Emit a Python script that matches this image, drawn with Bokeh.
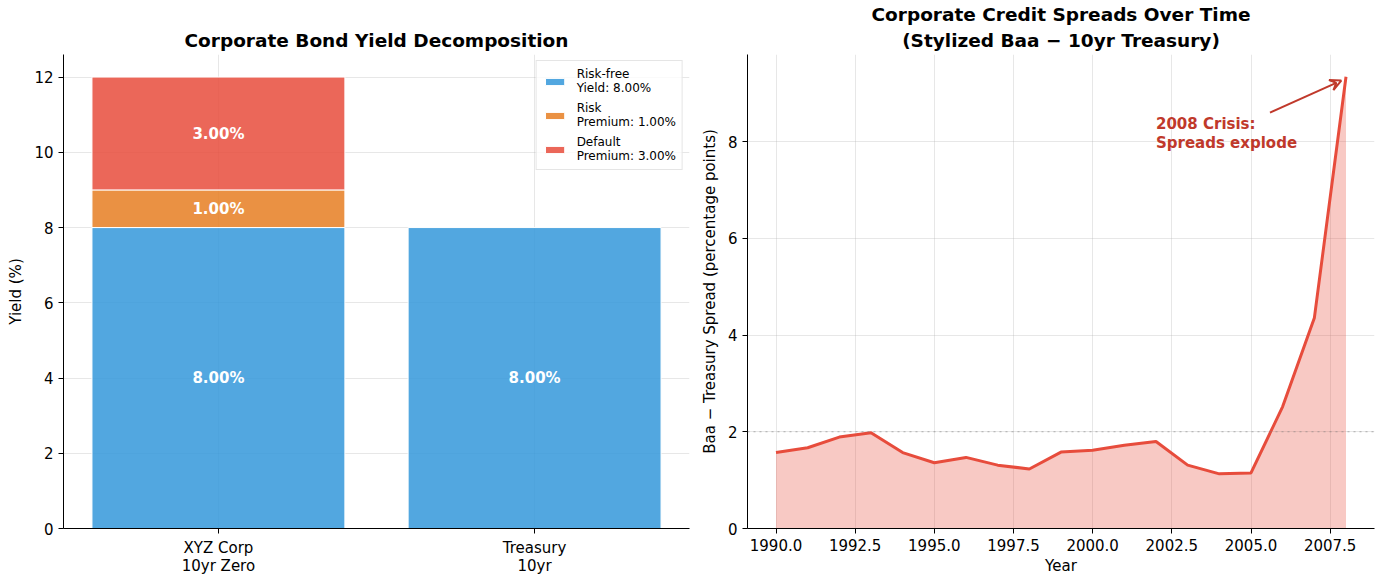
from bokeh.plotting import figure
from bokeh.layouts import row
from bokeh.models import (ColumnDataSource, Range1d, FixedTicker, Span, Arrow, VeeHead,
                          Title, Legend, LegendItem, PrintfTickFormatter)
from bokeh.core.properties import value
from bokeh.embed import file_html
from bokeh.resources import INLINE

# ---------------- data ----------------
categories = ["XYZ Corp\n10yr Zero", "Treasury\n10yr"]
risk_free = [8.0, 8.0]
risk_premium = [1.0, 0.0]
default_premium = [3.0, 0.0]

years = [1990, 1991, 1992, 1993, 1994, 1995, 1996, 1997, 1998, 1999,
         2000, 2001, 2002, 2003, 2004, 2005, 2006, 2007, 2008]
spreads = [1.57, 1.67, 1.89, 1.98, 1.57, 1.36, 1.47, 1.31, 1.23, 1.58,
           1.62, 1.72, 1.80, 1.31, 1.13, 1.15, 2.52, 4.35, 9.34]

FONT = "DejaVu Sans"
BLUE, ORANGE, RED = "#3498db", "#e67e22", "#e74c3c"
DARKRED = "#c0392b"


def style(p):
    p.outline_line_color = None
    p.title.text_font = FONT
    p.title.text_color = "black"
    p.title.align = "center"
    p.title.text_font_size = "18.5px"
    p.title.text_font_style = "bold"
    p.title.standoff = 7
    for ax in (p.xaxis[0], p.yaxis[0]):
        ax.axis_line_color = "black"
        ax.major_tick_line_color = "black"
        ax.major_tick_out = 5
        ax.major_tick_in = 0
        ax.minor_tick_line_color = None
        ax.major_label_text_font = FONT
        ax.major_label_text_font_size = "15px"
        ax.major_label_text_color = "black"
        ax.major_label_text_line_height = 1.0
        ax.axis_label_text_font = FONT
        ax.axis_label_text_font_size = "15px"
        ax.axis_label_text_font_style = "normal"
        ax.axis_label_text_color = "black"
        ax.major_label_standoff = 5
        ax.axis_label_standoff = 6
    for g in (p.xgrid[0], p.ygrid[0]):
        g.grid_line_color = "#b0b0b0"
        g.grid_line_alpha = 0.3


# ---------------- left: stacked bars ----------------
xs = list(range(len(categories)))
p1 = figure(frame_width=626, frame_height=474, output_backend="svg", toolbar_location=None,
            x_range=Range1d(-0.49, 1.49), y_range=Range1d(0, 12.6),
            min_border_left=63, min_border_right=8, min_border_top=54, min_border_bottom=48)
p1.title.text = "Corporate Bond Yield Decomposition"
style(p1)
p1.xaxis.ticker = FixedTicker(ticks=xs)
p1.xaxis.major_label_overrides = {i: c for i, c in enumerate(categories)}
p1.yaxis.ticker = FixedTicker(ticks=[0, 2, 4, 6, 8, 10, 12])
p1.yaxis.axis_label = "Yield (%)"

segments = [
    (risk_free, BLUE, "Risk-free\nYield: %.2f%%" % risk_free[0]),
    (risk_premium, ORANGE, "Risk\nPremium: %.2f%%" % risk_premium[0]),
    (default_premium, RED, "Default\nPremium: %.2f%%" % default_premium[0]),
]
bottoms = [0.0] * len(xs)
items = []
lx, ly, lt = [], [], []
for vals, col, lab in segments:
    bx = [x for x, v in zip(xs, vals) if v > 0]
    bb = [b for b, v in zip(bottoms, vals) if v > 0]
    bt = [b + v for b, v in zip(bottoms, vals) if v > 0]
    src = ColumnDataSource(dict(x=bx, bottom=bb, top=bt))
    r = p1.vbar(x="x", bottom="bottom", top="top", width=0.8, source=src,
                fill_color=col, fill_alpha=0.85, line_color="white", line_width=1)
    items.append(LegendItem(label=lab, renderers=[r]))
    for x, b, v in zip(xs, bottoms, vals):
        if v > 0:
            lx.append(x)
            ly.append(b + v / 2)
            lt.append("%.2f%%" % v)
    bottoms = [b + v for b, v in zip(bottoms, vals)]

p1.text(x=lx, y=ly, text=lt, text_align="center", text_baseline="middle",
        text_color="white", text_font=value(FONT), text_font_style="bold",
        text_font_size="15px")

legend = Legend(items=items, location="top_right")
legend.label_text_font = FONT
legend.label_text_font_size = "12px"
legend.label_text_color = "black"
legend.label_text_line_height = 1.1
legend.glyph_width = 24
legend.glyph_height = 9
legend.label_standoff = 10
legend.spacing = 6
legend.padding = 6
legend.margin = 6
legend.border_line_color = "#cccccc"
legend.border_line_width = 1
legend.background_fill_alpha = 0.8
p1.add_layout(legend)

# ---------------- right: spreads ----------------
p2 = figure(frame_width=627, frame_height=474, output_backend="svg", toolbar_location=None,
            x_range=Range1d(1989.1, 2008.9), y_range=Range1d(0, 9.8),
            min_border_left=47, min_border_right=2, min_border_top=54, min_border_bottom=48)
p2.title.text = ""
style(p2)
p2.add_layout(Title(text="(Stylized Baa \u2212 10yr Treasury)", align="center",
                    text_font=FONT, text_font_size="18.5px", text_font_style="bold",
                    text_color="black", text_line_height=1.0, standoff=7), "above")
p2.add_layout(Title(text="Corporate Credit Spreads Over Time", align="center",
                    text_font=FONT, text_font_size="18.5px", text_font_style="bold",
                    text_color="black", text_line_height=1.0, standoff=0), "above")
p2.xaxis.ticker = FixedTicker(ticks=[1990, 1992.5, 1995, 1997.5, 2000, 2002.5, 2005, 2007.5])
p2.xaxis.formatter = PrintfTickFormatter(format="%.1f")
p2.yaxis.ticker = FixedTicker(ticks=[0, 2, 4, 6, 8])
p2.xaxis.axis_label = "Year"
p2.yaxis.axis_label = "Baa \u2212 Treasury Spread (percentage points)"
p2.xaxis.axis_label_standoff = 3

src2 = ColumnDataSource(dict(x=years, y=spreads, z=[0] * len(years)))
p2.varea(x="x", y1="z", y2="y", source=src2, fill_color=RED, fill_alpha=0.3)
p2.line(x="x", y="y", source=src2, line_color=RED, line_width=3)
p2.add_layout(Span(location=2, dimension="width", line_color="gray",
                   line_alpha=0.6, line_dash="dotted", line_width=1))

p2.text(x=[2002.0], y=[7.78], text=["2008 Crisis:\nSpreads explode"],
        text_align="left", text_baseline="bottom", text_color=DARKRED,
        text_line_height=1.05,
        text_font=value(FONT), text_font_style="bold", text_font_size="15px")
p2.add_layout(Arrow(end=VeeHead(size=11, line_color=DARKRED, line_width=2, fill_color=None),
                    x_start=2005.6, y_start=8.6,
                    x_end=years[-1] - 0.15, y_end=spreads[-1] - 0.08,
                    line_color=DARKRED, line_width=2))

layout = row(p1, p2)
open("out.html", "w").write(file_html(layout, INLINE))
